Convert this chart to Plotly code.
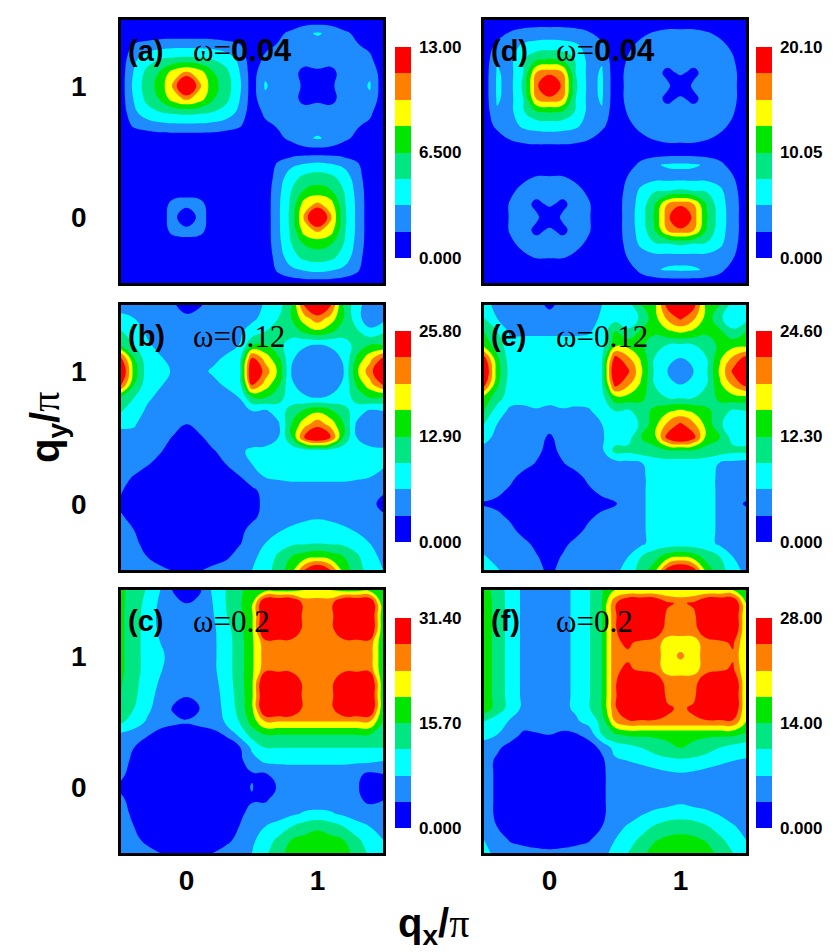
import numpy as np
import plotly.graph_objects as go

# grid coordinates (units of pi), shared by both axes
q_grid = [-0.5, -0.4, -0.3, -0.2, -0.1, 0.0, 0.1, 0.2, 0.3, 0.4, 0.5,
          0.6, 0.7, 0.8, 0.9, 1.0, 1.1, 1.2, 1.3, 1.4, 1.5]

# Values, in colour-band units (0..8 of each panel's scale).
# Rows run from q_y = 1.5 (top) down to q_y = -0.5 (bottom); columns q_x = -0.5 .. 1.5.
panel_a_levels = [
    [0.2,0.2,0.2,0.2,0.2,0.2,0.2,0.2,0.2,0.2,0.2,0.2,0.2,0.3,0.4,0.4,0.4,0.3,0.2,0.2,0.2],
    [0.2,0.2,0.3,0.4,0.4,0.4,0.4,0.4,0.3,0.2,0.2,0.3,0.8,1.2,1.8,2.1,1.8,1.2,0.8,0.3,0.2],
    [0.3,1.2,1.5,1.7,1.8,1.8,1.8,1.7,1.5,1.2,0.3,0.8,1.1,1.5,1.6,1.6,1.6,1.5,1.1,0.8,0.2],
    [0.4,1.8,2.6,3.0,3.2,3.3,3.2,3.0,2.6,1.8,0.4,1.2,1.5,1.5,1.5,1.5,1.5,1.5,1.5,1.2,0.3],
    [0.5,2.1,3.3,4.1,5.5,6.2,5.5,4.1,3.3,2.1,0.5,1.8,1.6,1.5,0.6,0.8,0.6,1.5,1.6,1.8,0.4],
    [0.5,2.3,3.5,4.4,6.2,9.4,6.2,4.4,3.5,2.3,0.5,2.1,1.6,1.5,0.8,0.3,0.8,1.5,1.6,2.1,0.4],
    [0.5,2.1,3.3,4.1,5.5,6.2,5.5,4.1,3.3,2.1,0.5,1.8,1.6,1.5,0.6,0.8,0.6,1.5,1.6,1.8,0.4],
    [0.4,1.8,2.6,3.0,3.2,3.3,3.2,3.0,2.6,1.8,0.4,1.2,1.5,1.5,1.5,1.5,1.5,1.5,1.5,1.2,0.3],
    [0.3,1.2,1.5,1.7,1.8,1.8,1.8,1.7,1.5,1.2,0.3,0.8,1.1,1.5,1.6,1.6,1.6,1.5,1.1,0.8,0.2],
    [0.2,0.2,0.3,0.4,0.4,0.4,0.4,0.4,0.3,0.2,0.2,0.3,0.8,1.2,1.8,2.1,1.8,1.2,0.8,0.3,0.2],
    [0.2,0.2,0.2,0.2,0.2,0.2,0.2,0.2,0.2,0.2,0.2,0.2,0.3,0.4,0.5,0.5,0.5,0.4,0.3,0.2,0.2],
    [0.2,0.2,0.2,0.2,0.2,0.2,0.2,0.2,0.2,0.2,0.2,0.2,1.2,1.8,2.1,2.3,2.1,1.8,1.2,0.2,0.2],
    [0.2,0.2,0.2,0.2,0.2,0.2,0.2,0.2,0.2,0.2,0.2,0.3,1.5,2.6,3.3,3.5,3.3,2.6,1.5,0.3,0.2],
    [0.2,0.2,0.2,0.3,0.5,0.6,0.5,0.3,0.2,0.2,0.2,0.4,1.7,3.0,4.1,4.4,4.1,3.0,1.7,0.4,0.2],
    [0.2,0.2,0.2,0.5,1.3,1.4,1.3,0.5,0.2,0.2,0.2,0.4,1.8,3.2,5.5,6.2,5.5,3.2,1.8,0.4,0.2],
    [0.2,0.2,0.2,0.6,1.4,0.0,1.4,0.6,0.2,0.2,0.2,0.4,1.8,3.3,6.2,9.4,6.2,3.3,1.8,0.4,0.2],
    [0.2,0.2,0.2,0.5,1.3,1.4,1.3,0.5,0.2,0.2,0.2,0.4,1.8,3.2,5.5,6.2,5.5,3.2,1.8,0.4,0.2],
    [0.2,0.2,0.2,0.3,0.5,0.6,0.5,0.3,0.2,0.2,0.2,0.4,1.7,3.0,4.1,4.4,4.1,3.0,1.7,0.4,0.2],
    [0.2,0.2,0.2,0.2,0.2,0.2,0.2,0.2,0.2,0.2,0.2,0.3,1.5,2.6,3.3,3.5,3.3,2.6,1.5,0.3,0.2],
    [0.2,0.2,0.2,0.2,0.2,0.2,0.2,0.2,0.2,0.2,0.2,0.2,1.2,1.8,2.1,2.3,2.1,1.8,1.2,0.2,0.2],
    [0.2,0.2,0.2,0.2,0.2,0.2,0.2,0.2,0.2,0.2,0.2,0.2,0.3,0.4,0.5,0.5,0.5,0.4,0.3,0.2,0.2],
]

panel_b_levels = [
    [1.7,1.7,1.5,1.5,1.1,0.6,0.9,1.4,1.5,1.3,1.6,2.1,2.6,3.8,7.2,8.5,7.2,3.8,2.4,1.4,1.6],
    [2.2,2.0,1.6,1.5,1.5,1.2,1.4,1.5,1.5,1.4,1.8,2.3,3.0,4.0,5.6,6.6,5.6,4.0,2.4,1.3,1.6],
    [3.1,2.6,1.8,1.5,1.5,1.5,1.5,1.5,1.6,1.8,2.4,3.0,3.3,3.4,4.2,4.8,4.2,3.4,3.2,2.3,2.9],
    [3.8,3.0,2.2,1.6,1.5,1.5,1.5,1.6,1.7,2.0,3.8,4.0,3.3,2.6,2.1,2.0,2.1,2.6,3.3,4.0,3.8],
    [7.2,4.0,2.4,2.1,1.6,1.5,1.6,1.8,2.1,2.3,7.2,5.6,4.2,2.1,1.7,1.6,1.7,2.1,4.2,5.6,7.2],
    [8.5,4.5,2.5,2.3,1.9,1.5,1.8,2.1,2.3,2.4,8.5,6.6,4.8,2.0,1.6,1.4,1.6,2.0,4.8,6.6,8.5],
    [7.2,4.0,2.4,2.1,1.6,1.5,1.6,1.8,2.1,2.3,7.2,5.6,4.2,2.1,1.7,1.6,1.7,2.1,4.2,5.6,7.2],
    [3.8,3.0,2.2,1.7,1.5,1.5,1.5,1.5,1.7,2.0,3.8,4.0,3.3,2.6,2.1,2.0,2.1,2.6,3.3,4.0,3.8],
    [3.1,2.6,1.8,1.5,1.5,1.5,1.5,1.5,1.5,1.7,2.0,1.8,2.6,3.3,4.2,4.8,4.2,3.3,2.6,1.8,2.0],
    [2.2,2.1,1.5,1.5,1.5,1.0,1.5,1.5,1.5,1.6,1.6,1.3,1.8,4.0,5.6,6.6,5.6,4.0,1.8,1.3,1.6],
    [1.6,1.7,1.5,1.5,0.9,0.6,0.8,1.5,1.5,1.5,1.7,1.6,2.0,3.8,7.2,8.5,7.2,3.8,2.0,1.6,1.7],
    [1.5,1.5,1.5,1.1,0.5,0.4,0.5,0.9,1.4,1.9,2.1,2.2,2.3,2.4,2.5,2.6,2.5,2.4,2.3,2.2,2.1],
    [1.5,1.5,1.1,0.6,0.4,0.4,0.4,0.6,1.0,1.6,2.0,2.2,2.3,2.3,2.4,2.4,2.4,2.3,2.3,2.2,2.1],
    [1.4,0.9,0.4,0.4,0.4,0.4,0.4,0.4,0.4,0.9,1.5,2.0,2.1,2.2,2.2,2.2,2.2,2.2,2.1,2.0,1.8],
    [1.1,0.4,0.4,0.4,0.4,0.4,0.4,0.4,0.4,0.4,0.8,1.3,1.6,1.6,1.6,1.6,1.6,1.6,1.6,1.5,1.1],
    [0.8,0.4,0.4,0.4,0.4,0.4,0.4,0.4,0.4,0.4,0.7,1.2,1.5,1.5,1.5,1.5,1.5,1.5,1.5,1.2,0.8],
    [1.1,0.7,0.4,0.4,0.4,0.4,0.4,0.4,0.4,0.4,0.8,1.3,1.5,1.6,1.8,1.9,1.8,1.6,1.5,1.5,1.1],
    [1.4,1.0,0.4,0.4,0.4,0.4,0.4,0.4,0.4,0.7,1.3,1.5,1.9,2.2,2.4,2.5,2.4,2.2,1.9,1.5,1.4],
    [1.5,1.2,0.7,0.4,0.4,0.4,0.4,0.4,0.4,0.9,1.5,2.0,2.5,2.8,2.9,3.0,2.9,2.8,2.5,2.0,1.6],
    [1.5,1.5,1.0,0.4,0.4,0.4,0.4,0.4,0.8,1.4,1.8,2.3,3.2,4.0,4.5,4.8,4.5,4.0,3.2,2.3,1.8],
    [1.6,1.5,1.5,1.3,0.9,0.6,0.9,1.3,1.5,1.5,2.0,2.5,3.5,4.5,7.0,8.5,7.0,4.5,3.5,2.5,2.0],
]

panel_c_levels = [
    [4.2,3.6,2.9,2.0,0.9,0.5,0.8,2.2,3.0,3.8,4.4,4.6,4.6,4.6,5.0,5.2,5.0,4.6,4.6,4.6,4.2],
    [4.2,3.5,2.7,1.8,1.4,1.0,1.4,2.0,3.0,3.8,4.8,8.5,8.5,8.5,6.6,6.5,6.6,8.5,8.5,8.5,4.2],
    [4.2,3.4,2.6,1.7,1.5,1.5,1.5,1.9,2.9,3.7,4.8,8.5,8.5,8.5,6.6,6.5,6.6,8.5,8.5,8.5,4.2],
    [4.2,3.4,2.6,1.8,1.5,1.5,1.5,1.8,2.6,3.6,4.8,8.5,8.5,7.6,6.8,6.5,6.8,7.6,8.5,8.5,4.2],
    [4.2,3.4,2.6,2.0,1.5,1.5,1.5,1.8,2.5,3.5,4.8,6.6,6.6,6.8,6.6,6.5,6.6,6.8,6.6,6.6,4.2],
    [4.2,3.4,2.6,2.2,1.6,1.5,1.5,1.8,2.5,3.5,4.8,6.5,6.5,6.5,6.5,6.5,6.5,6.5,6.5,6.5,4.2],
    [4.2,3.4,2.6,2.1,1.5,1.5,1.5,1.8,2.5,3.5,4.8,6.6,6.6,6.8,6.6,6.5,6.6,6.8,6.6,6.6,4.2],
    [4.1,3.3,2.5,1.9,1.5,1.5,1.5,1.7,2.4,3.5,4.8,8.5,8.5,7.6,6.8,6.5,6.8,7.6,8.5,8.5,4.2],
    [4.0,3.2,2.4,1.7,1.5,1.1,1.5,1.6,2.3,3.4,4.8,8.5,8.5,8.5,6.6,6.5,6.6,8.5,8.5,8.5,4.2],
    [3.8,3.0,2.2,1.6,0.9,0.4,1.0,1.6,2.2,3.3,4.8,8.5,8.5,8.5,6.6,6.5,6.6,8.5,8.5,8.5,4.2],
    [3.2,2.5,1.9,1.5,1.2,1.1,1.3,1.6,2.1,3.0,4.4,6.0,6.0,6.0,6.0,6.0,6.0,6.0,6.0,6.0,4.0],
    [1.8,1.6,1.1,0.6,0.5,0.5,0.5,0.6,1.1,2.2,3.4,4.0,4.0,4.0,4.0,4.0,4.0,4.0,4.0,4.0,3.8],
    [1.5,1.0,0.4,0.4,0.4,0.4,0.4,0.4,0.4,0.8,2.2,3.0,3.0,3.0,3.0,3.0,3.0,3.0,3.0,3.0,3.0],
    [1.5,0.7,0.4,0.4,0.4,0.4,0.4,0.4,0.4,0.7,1.6,2.2,2.2,2.2,2.2,2.2,2.2,2.2,2.2,2.2,2.0],
    [1.2,0.6,0.4,0.4,0.4,0.4,0.4,0.4,0.4,0.6,0.9,0.9,1.4,1.5,1.5,1.5,1.5,1.5,1.2,0.8,1.0],
    [0.8,0.5,0.4,0.4,0.4,0.4,0.4,0.4,0.4,0.7,1.05,0.5,1.1,1.5,1.5,1.5,1.5,1.5,1.1,0.5,0.8],
    [1.2,0.6,0.4,0.4,0.4,0.4,0.4,0.4,0.4,0.6,0.9,0.9,1.4,1.5,1.5,1.5,1.5,1.5,1.2,0.8,1.0],
    [1.5,0.7,0.4,0.4,0.4,0.4,0.4,0.4,0.4,0.7,1.4,1.5,1.5,1.8,2.1,2.2,2.1,1.8,1.5,1.5,1.5],
    [1.5,1.0,0.4,0.4,0.4,0.4,0.4,0.4,0.4,1.0,1.5,2.0,2.4,3.0,3.5,3.8,3.5,3.0,2.4,2.0,1.6],
    [1.5,1.3,0.7,0.4,0.4,0.4,0.4,0.4,0.7,1.3,1.8,2.5,3.2,4.0,4.3,4.5,4.3,4.0,3.2,2.5,2.0],
    [1.6,1.5,1.4,1.0,0.5,0.5,0.5,1.0,1.4,1.6,2.0,2.8,3.6,4.4,4.8,5.0,4.8,4.4,3.6,2.8,2.3],
]

panel_d_levels = [
    [0.2,0.2,0.3,0.3,0.4,0.4,0.4,0.3,0.3,0.2,0.2,0.2,0.2,0.2,0.3,0.3,0.3,0.2,0.2,0.2,0.2],
    [0.2,0.5,1.1,1.4,1.5,1.5,1.5,1.4,1.1,0.5,0.2,0.2,0.8,1.1,1.3,1.3,1.3,1.1,0.8,0.2,0.2],
    [0.3,1.3,1.6,2.2,2.4,2.5,2.4,2.2,1.6,1.3,0.3,0.8,1.3,1.5,1.5,1.5,1.5,1.5,1.3,0.8,0.2],
    [0.3,1.9,1.7,2.9,3.9,4.1,3.9,2.9,1.7,1.9,0.3,1.1,1.5,1.5,1.5,1.5,1.5,1.5,1.5,1.1,0.2],
    [0.4,2.1,1.7,3.0,6.0,6.5,6.0,3.0,1.7,2.1,0.4,1.3,1.5,1.5,0.7,1.2,0.7,1.5,1.5,1.3,0.3],
    [0.4,2.15,1.7,3.2,6.6,9.5,6.6,3.2,1.7,2.15,0.4,1.3,1.5,1.5,1.2,0.2,1.2,1.5,1.5,1.3,0.3],
    [0.4,2.1,1.7,3.0,6.0,6.5,6.0,3.0,1.7,2.1,0.4,1.3,1.5,1.5,0.7,1.2,0.7,1.5,1.5,1.3,0.3],
    [0.3,1.9,1.7,2.9,3.9,4.1,3.9,2.9,1.7,1.9,0.3,1.1,1.5,1.5,1.5,1.5,1.5,1.5,1.5,1.1,0.2],
    [0.3,1.3,1.6,2.2,2.4,2.5,2.4,2.2,1.6,1.3,0.3,0.8,1.3,1.5,1.5,1.5,1.5,1.5,1.3,0.8,0.2],
    [0.2,0.5,1.1,1.4,1.5,1.5,1.5,1.4,1.1,0.5,0.2,0.2,0.8,1.1,1.3,1.3,1.3,1.1,0.8,0.2,0.2],
    [0.2,0.2,0.3,0.3,0.4,0.4,0.4,0.3,0.3,0.2,0.2,0.2,0.3,0.3,0.4,0.4,0.4,0.3,0.3,0.2,0.2],
    [0.2,0.2,0.2,0.2,0.3,0.3,0.3,0.2,0.2,0.2,0.2,0.5,1.3,1.9,2.1,2.15,2.1,1.9,1.3,0.5,0.2],
    [0.2,0.2,0.3,0.8,1.1,1.1,1.1,0.8,0.3,0.2,0.3,1.1,1.6,1.7,1.7,1.7,1.7,1.7,1.6,1.1,0.3],
    [0.2,0.2,0.8,1.3,1.5,1.5,1.5,1.3,0.8,0.2,0.3,1.4,2.2,2.9,3.0,3.2,3.0,2.9,2.2,1.4,0.3],
    [0.2,0.3,1.1,1.5,0.7,1.2,0.7,1.5,1.1,0.3,0.4,1.5,2.4,3.9,6.0,6.6,6.0,3.9,2.4,1.5,0.4],
    [0.2,0.3,1.1,1.5,1.2,0.2,1.2,1.5,1.1,0.3,0.4,1.5,2.5,4.1,6.5,9.5,6.5,4.1,2.5,1.5,0.4],
    [0.2,0.3,1.1,1.5,0.7,1.2,0.7,1.5,1.1,0.3,0.4,1.5,2.4,3.9,6.0,6.6,6.0,3.9,2.4,1.5,0.4],
    [0.2,0.2,0.8,1.3,1.5,1.5,1.5,1.3,0.8,0.2,0.3,1.4,2.2,2.9,3.0,3.2,3.0,2.9,2.2,1.4,0.3],
    [0.2,0.2,0.3,0.8,1.1,1.1,1.1,0.8,0.3,0.2,0.3,1.1,1.6,1.7,1.7,1.7,1.7,1.7,1.6,1.1,0.3],
    [0.2,0.2,0.2,0.2,0.3,0.3,0.3,0.2,0.2,0.2,0.2,0.5,1.3,1.9,2.1,2.15,2.1,1.9,1.3,0.5,0.2],
    [0.2,0.2,0.2,0.2,0.2,0.2,0.2,0.2,0.2,0.2,0.2,0.2,0.3,0.3,0.4,0.4,0.4,0.3,0.3,0.2,0.2],
]

panel_e_levels = [
    [2.5,1.6,1.5,1.5,1.3,0.8,1.3,1.5,1.5,2.0,2.5,2.6,4.0,4.6,7.4,8.5,7.4,4.6,4.0,2.6,2.5],
    [3.0,2.0,1.5,1.5,1.5,1.4,1.5,1.5,1.5,2.2,2.6,2.3,3.2,4.6,6.2,7.2,6.2,4.6,3.2,2.3,2.6],
    [4.0,3.0,1.8,1.8,1.8,1.8,1.8,1.8,1.9,2.4,4.0,3.2,4.2,4.2,4.8,5.2,4.8,4.2,4.2,3.2,4.0],
    [4.6,3.5,2.4,2.4,2.4,2.4,2.4,2.4,2.4,2.6,4.6,4.6,4.2,3.5,3.0,2.9,3.0,3.5,4.2,4.6,4.6],
    [7.4,4.2,2.5,2.4,2.4,2.4,2.4,2.4,2.4,2.9,7.4,6.2,4.8,3.0,2.3,2.0,2.3,3.0,4.8,6.2,7.4],
    [8.5,4.5,2.6,2.4,2.4,2.4,2.4,2.4,2.4,3.0,8.5,7.2,5.2,2.9,2.0,1.5,2.0,2.9,5.2,7.2,8.5],
    [7.4,4.2,2.5,2.4,2.4,2.4,2.4,2.4,2.4,2.9,7.4,6.2,4.8,3.0,2.3,2.0,2.3,3.0,4.8,6.2,7.4],
    [4.6,3.5,2.4,2.4,2.4,2.4,2.4,2.4,2.4,2.6,4.6,4.6,4.2,3.5,3.0,2.9,3.0,3.5,4.2,4.6,4.6],
    [4.0,2.5,1.8,1.7,1.9,1.7,1.9,1.8,1.9,2.4,3.0,2.8,3.6,4.2,4.8,5.2,4.8,4.2,3.6,2.8,3.0],
    [3.0,2.0,1.5,1.5,1.5,1.5,1.5,1.5,1.5,2.0,2.6,2.3,3.2,4.6,6.2,7.2,6.2,4.6,3.2,2.3,2.6],
    [2.5,1.6,1.5,1.5,1.5,0.8,1.5,1.5,1.5,1.9,2.5,2.6,4.0,4.6,7.4,8.5,7.4,4.6,4.0,2.6,2.5],
    [1.5,1.5,1.5,1.5,1.3,0.6,1.3,1.5,1.5,1.8,3.3,3.3,3.5,3.6,3.8,3.8,3.8,3.6,3.5,3.3,3.3],
    [1.5,1.5,1.5,1.4,0.9,0.4,0.9,1.4,1.5,1.5,1.5,1.6,1.9,2.4,2.5,2.5,2.5,2.4,1.9,1.6,1.5],
    [1.5,1.5,1.3,0.6,0.4,0.4,0.4,0.6,1.3,1.5,1.5,1.5,1.8,2.4,2.4,2.4,2.4,2.4,1.8,1.5,1.5],
    [1.5,1.3,0.8,0.4,0.4,0.4,0.4,0.4,0.8,1.3,1.5,1.5,1.8,2.4,2.4,2.4,2.4,2.4,1.8,1.5,1.4],
    [0.9,0.7,0.4,0.4,0.4,0.4,0.4,0.4,0.4,0.6,0.9,1.6,1.8,2.4,2.4,2.4,2.4,2.4,1.8,1.3,0.9],
    [1.5,1.3,0.8,0.4,0.4,0.4,0.4,0.4,0.8,1.3,1.5,1.5,1.8,2.4,2.4,2.4,2.4,2.4,1.8,1.5,1.4],
    [1.5,1.5,1.3,0.6,0.4,0.4,0.4,0.6,1.3,1.5,1.5,1.5,1.8,2.4,2.4,2.4,2.4,2.4,1.8,1.5,1.5],
    [1.5,1.5,1.5,1.3,0.7,0.4,0.7,1.3,1.5,1.5,1.5,1.5,1.8,2.4,2.4,2.4,2.4,2.4,1.8,1.5,1.5],
    [2.1,1.6,1.5,1.5,1.1,0.5,1.1,1.5,1.5,1.5,1.6,2.0,3.0,3.6,4.5,5.0,4.5,3.6,3.0,2.0,1.8],
    [2.5,2.1,1.5,1.5,1.4,0.7,1.4,1.5,1.5,1.5,1.8,2.3,3.5,4.5,7.5,8.5,7.5,4.5,3.5,2.3,1.8],
]

panel_f_levels = [
    [4.5,3.5,2.6,1.8,1.5,1.5,1.7,2.2,2.9,3.9,5.0,5.0,5.0,5.0,5.0,5.0,5.0,5.0,5.0,5.0,4.8],
    [4.6,3.6,2.6,1.8,1.5,1.5,1.7,2.2,2.9,4.0,6.8,8.5,8.5,8.5,7.2,6.8,7.2,8.5,8.5,8.5,5.0],
    [4.6,3.6,2.6,1.8,1.5,1.5,1.7,2.2,2.9,4.0,6.8,8.5,8.5,8.5,6.7,6.5,6.7,8.5,8.5,8.5,5.0],
    [4.6,3.6,2.6,1.8,1.5,1.5,1.7,2.2,2.9,4.0,6.8,8.5,8.5,8.0,6.5,6.5,6.5,8.0,8.5,8.5,5.0],
    [4.6,3.6,2.6,1.8,1.5,1.5,1.7,2.2,2.9,4.0,6.8,7.2,6.7,6.5,5.6,5.5,5.6,6.5,6.7,7.2,5.0],
    [4.6,3.6,2.6,1.8,1.5,1.5,1.7,2.2,2.9,4.0,6.8,6.8,6.5,6.5,5.5,6.2,5.5,6.5,6.5,6.8,5.0],
    [4.6,3.6,2.6,1.8,1.5,1.5,1.7,2.2,2.9,4.0,6.8,7.2,6.7,6.5,5.6,5.5,5.6,6.5,6.7,7.2,5.0],
    [4.6,3.6,2.6,1.8,1.5,1.5,1.7,2.2,2.9,4.0,6.8,8.5,8.5,8.0,6.5,6.5,6.5,8.0,8.5,8.5,5.0],
    [4.6,3.6,2.6,1.8,1.5,1.5,1.7,2.2,2.9,4.0,6.8,8.5,8.5,8.5,6.7,6.5,6.7,8.5,8.5,8.5,5.0],
    [4.6,3.6,2.6,1.8,1.5,1.5,1.7,2.2,2.9,4.0,6.8,8.5,8.5,8.5,7.2,6.8,7.2,8.5,8.5,8.5,5.0],
    [3.0,2.4,1.9,1.5,1.5,1.5,1.5,1.8,2.4,3.3,6.0,6.8,6.8,6.8,6.8,6.8,6.8,6.8,6.8,6.8,5.0],
    [2.3,2.0,1.5,0.8,0.9,1.0,0.8,0.9,1.3,3.0,3.8,4.2,4.2,4.2,4.2,4.2,4.2,4.2,4.2,4.2,3.8],
    [1.6,1.2,0.6,0.4,0.4,0.4,0.4,0.4,0.6,1.2,2.4,2.6,3.0,3.4,3.8,4.0,3.8,3.4,3.0,2.6,2.4],
    [1.5,0.8,0.4,0.4,0.4,0.4,0.4,0.4,0.4,0.8,1.8,2.0,2.2,2.5,2.7,2.8,2.7,2.5,2.2,2.0,1.9],
    [1.5,0.8,0.4,0.4,0.4,0.4,0.4,0.4,0.4,0.8,1.5,1.5,1.5,1.6,1.8,1.9,1.8,1.6,1.5,1.5,1.5],
    [1.5,0.8,0.4,0.4,0.4,0.4,0.4,0.4,0.4,0.8,1.5,1.5,1.5,1.5,1.5,1.5,1.5,1.5,1.5,1.5,1.5],
    [1.5,0.8,0.4,0.4,0.4,0.4,0.4,0.4,0.4,0.8,1.5,1.5,1.5,1.5,1.6,1.8,1.6,1.5,1.5,1.5,1.5],
    [1.5,0.8,0.4,0.4,0.4,0.4,0.4,0.4,0.4,0.8,1.5,1.6,1.9,2.2,2.4,2.5,2.4,2.2,1.9,1.6,1.5],
    [1.5,1.0,0.5,0.4,0.4,0.4,0.4,0.4,0.5,1.0,1.7,2.1,2.6,3.1,3.5,3.6,3.5,3.1,2.6,2.1,1.7],
    [2.0,1.5,0.9,0.6,0.5,0.5,0.5,0.6,0.9,1.5,2.0,2.6,3.2,3.9,4.2,4.3,4.2,3.9,3.2,2.6,2.0],
    [2.3,1.7,1.5,1.5,1.3,1.2,1.3,1.5,1.5,1.7,2.3,3.0,3.7,4.4,4.7,4.8,4.7,4.4,3.7,3.0,2.3],
]

panel_names = ["a", "b", "c", "d", "e", "f"]
panel_levels = [panel_a_levels, panel_b_levels, panel_c_levels,
                panel_d_levels, panel_e_levels, panel_f_levels]
colorbar_max = [13.00, 25.80, 31.40, 20.10, 24.60, 28.00]
colorbar_ticktext = [["0.000", "6.500", "13.00"], ["0.000", "12.90", "25.80"],
                     ["0.000", "15.70", "31.40"], ["0.000", "10.05", "20.10"],
                     ["0.000", "12.30", "24.60"], ["0.000", "14.00", "28.00"]]
omega_values = ["0.04", "0.12", "0.2", "0.04", "0.12", "0.2"]
omega_bold_sans = [True, False, False, True, False, False]
axis_ticks = [0, 1]

band_colors = ["#0000FF", "#1E8CFF", "#00FFFF", "#00E682",
               "#00E600", "#FFFF00", "#FF8000", "#FF0000"]

# ---- layout geometry (pixels) ----
W, H = 833, 952
col_px = {1: (113, 375), 2: (476, 738)}
row_px = {1: (12, 275), 2: (297, 562), 3: (582, 845)}
cbar_x_px = {1: 387, 2: 748}
cbar_px = {1: (39, 250), 2: (323, 534), 3: (610, 820)}

SANS = "Arial, 'Liberation Sans', sans-serif"
SERIF = "'Times New Roman', 'Liberation Serif', serif"

colorscale = []
nb = len(band_colors)
for k, c in enumerate(band_colors):
    colorscale.append([k / nb, c])
    colorscale.append([(k + 1) / nb, c])

fig = go.Figure()
annotations = []

for idx, name in enumerate(panel_names):
    k = idx + 1
    col = 1 if idx < 3 else 2
    row = idx % 3 + 1
    zmax = colorbar_max[idx]
    step = zmax / nb
    z = np.array(panel_levels[idx][::-1]) * step

    x0, x1 = col_px[col]
    y0, y1 = row_px[row]
    cb0, cb1 = cbar_px[row]

    fig.add_trace(go.Contour(
        x=q_grid, y=q_grid, z=z,
        xaxis="x%d" % k, yaxis="y%d" % k,
        zmin=0, zmax=zmax, autocontour=False,
        contours=dict(start=step, end=step * (nb - 1) + 1e-9, size=step,
                      coloring="fill", showlines=False),
        line=dict(width=0, smoothing=1.3),
        colorscale=colorscale,
        hoverinfo="skip",
        colorbar=dict(
            x=cbar_x_px[col] / W, xanchor="left", xpad=0,
            y=1 - (cb0 + cb1) / 2 / H, yanchor="middle", ypad=0,
            len=(cb1 - cb0) / H, lenmode="fraction",
            thickness=16, thicknessmode="pixels",
            outlinewidth=0,
            tickmode="array", tickvals=[0, zmax / 2, zmax],
            ticktext=colorbar_ticktext[idx],
            ticks="outside", ticklen=5, tickcolor="rgba(0,0,0,0)",
            tickfont=dict(family=SANS, size=17, color="black", weight="bold"),
        ),
    ))

    axis_common = dict(
        range=[-0.5, 1.5], tickmode="array", tickvals=axis_ticks,
        ticktext=[str(t) for t in axis_ticks],
        showline=True, mirror=True, linecolor="black", linewidth=2.5,
        showgrid=False, zeroline=False, ticks="outside",
        tickcolor="rgba(0,0,0,0)",
        tickfont=dict(family=SANS, size=28, color="black", weight="bold"),
        fixedrange=True,
    )
    fig.layout["xaxis%d" % k] = dict(axis_common, domain=[x0 / W, x1 / W],
                                     anchor="y%d" % k, showticklabels=(row == 3),
                                     ticklen=1)
    fig.layout["yaxis%d" % k] = dict(axis_common, domain=[1 - y1 / H, 1 - y0 / H],
                                     anchor="x%d" % k, showticklabels=(col == 1),
                                     ticklen=26)

    # panel label and omega text
    label_y = 1 - (y0 + 31) / H
    annotations.append(dict(
        text="<b>(%s)</b>" % name, xref="paper", yref="paper",
        x=(x0 + 5) / W, y=label_y, xanchor="left", yanchor="middle",
        showarrow=False, font=dict(family=SANS, size=29, color="black")))
    if omega_bold_sans[idx]:
        om = "ω=<b><span style=\"font-family:Arial, 'Liberation Sans', sans-serif\">%s</span></b>" % omega_values[idx]
    else:
        om = "ω=%s" % omega_values[idx]
    annotations.append(dict(
        text=om, xref="paper", yref="paper",
        x=(x0 + 70) / W, y=label_y, xanchor="left", yanchor="middle",
        showarrow=False, font=dict(family=SERIF, size=31, color="black")))

# axis titles
annotations.append(dict(
    text="<b>q<sub>x</sub>/</b><span style=\"font-family:'Times New Roman', 'Liberation Serif', serif\">π</span>",
    xref="paper", yref="paper", x=425 / W, y=1 - 918 / H,
    xanchor="center", yanchor="middle", showarrow=False,
    font=dict(family=SANS, size=40, color="black")))
annotations.append(dict(
    text="<b>q<sub>y</sub>/</b><span style=\"font-family:'Times New Roman', 'Liberation Serif', serif\">π</span>",
    xref="paper", yref="paper", x=40 / W, y=1 - 420 / H, textangle=-90,
    xanchor="center", yanchor="middle", showarrow=False,
    font=dict(family=SANS, size=40, color="black")))

fig.update_layout(
    width=W, height=H,
    margin=dict(l=0, r=0, t=0, b=0, autoexpand=False),
    paper_bgcolor="white", plot_bgcolor="white",
    showlegend=False,
    annotations=annotations,
)

fig.write_html("out.html")
